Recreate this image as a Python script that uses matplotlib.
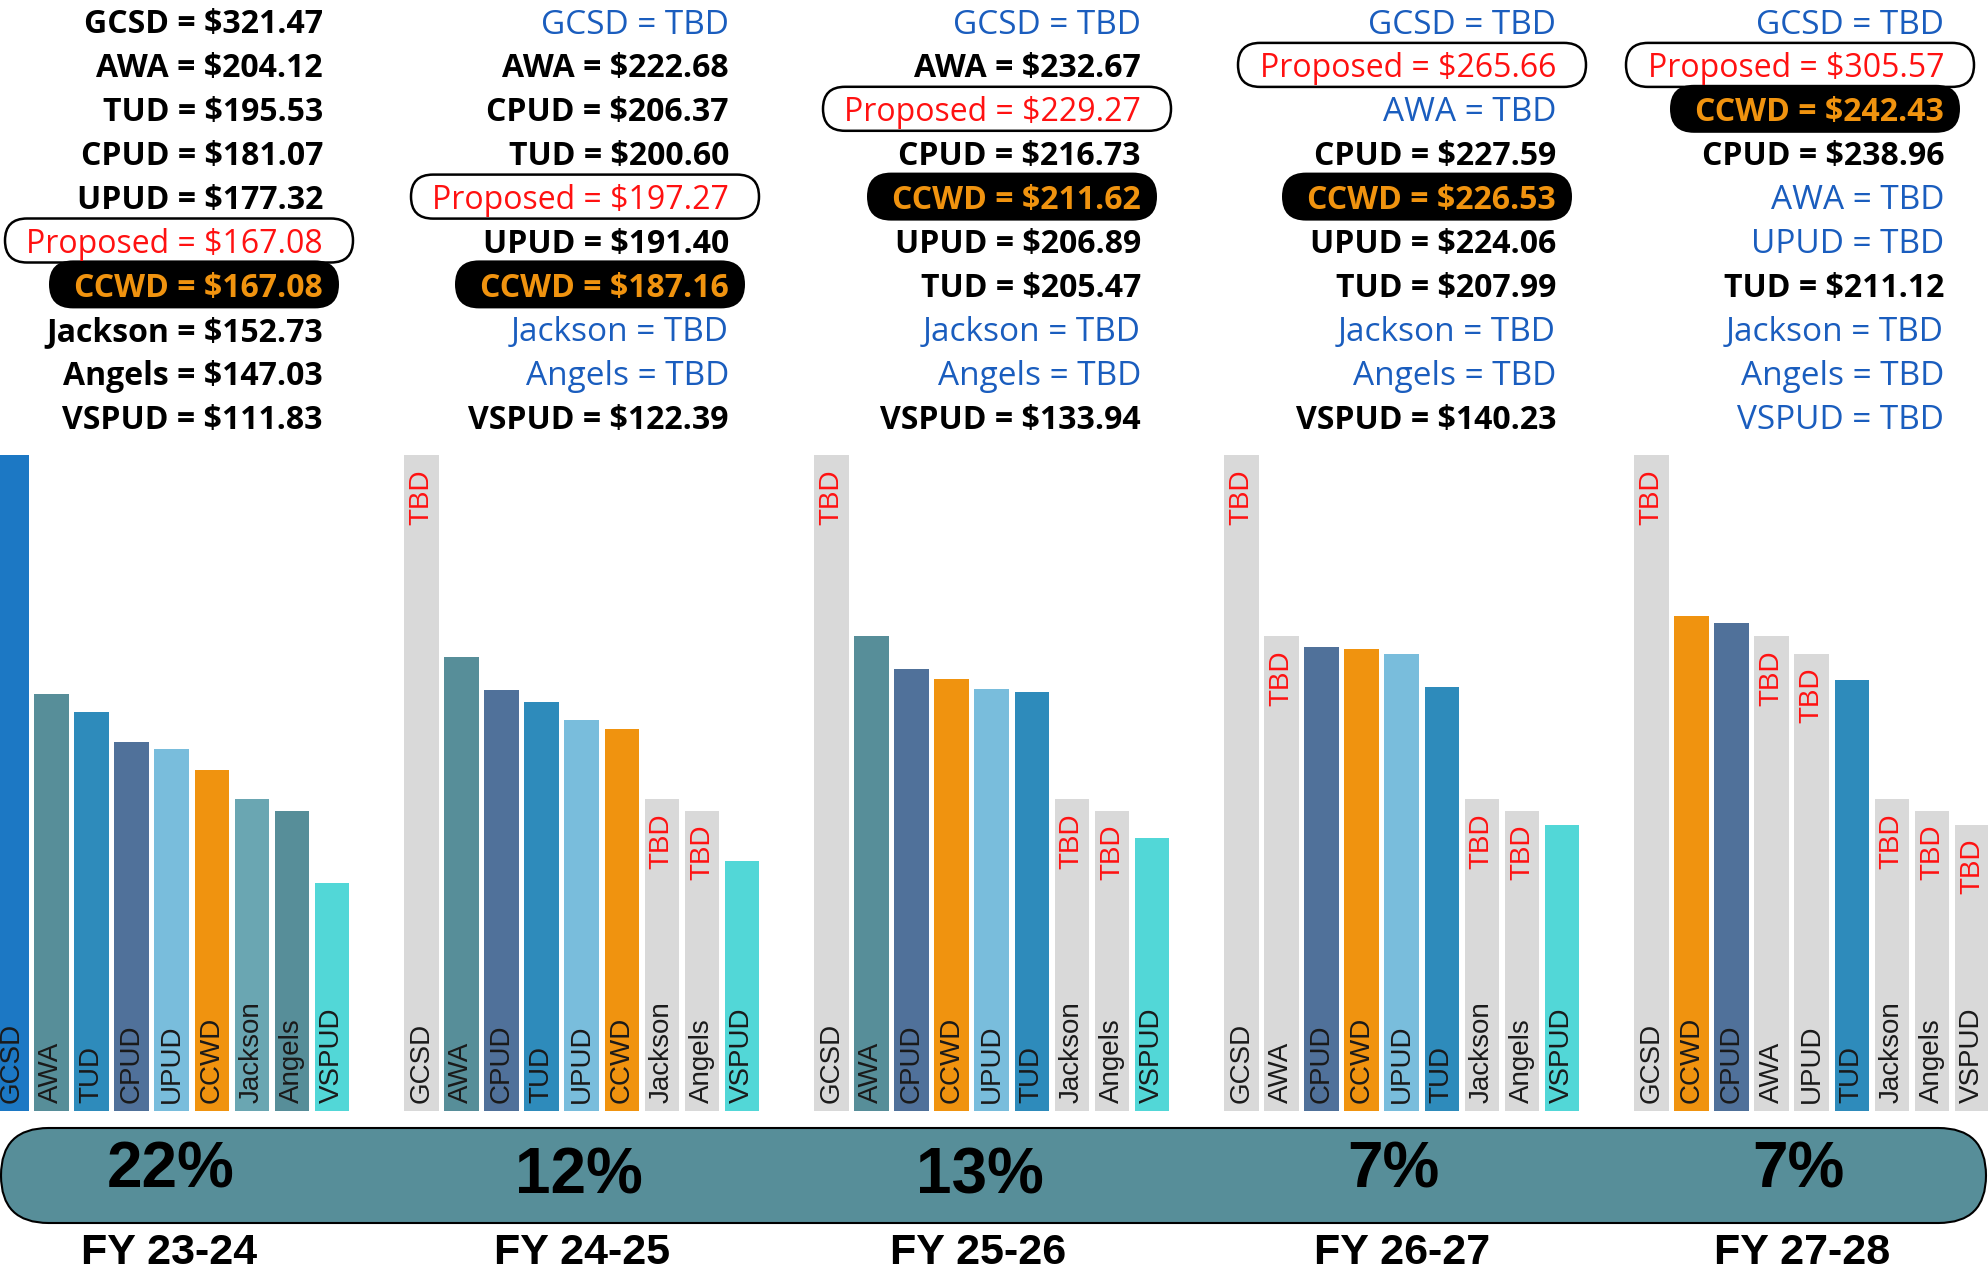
import matplotlib.pyplot as plt
from matplotlib.patches import FancyBboxPatch

years = ["FY 23-24", "FY 24-25", "FY 25-26", "FY 26-27", "FY 27-28"]
increase = ["22%", "12%", "13%", "7%", "7%"]
proposed = [167.08, 197.27, 229.27, 265.66, 305.57]
proposed_row = [5, 4, 2, 1, 1]   # where "Proposed" sits in the list

order = [
    ["GCSD", "AWA", "TUD", "CPUD", "UPUD", "CCWD", "Jackson", "Angels", "VSPUD"],
    ["GCSD", "AWA", "CPUD", "TUD", "UPUD", "CCWD", "Jackson", "Angels", "VSPUD"],
    ["GCSD", "AWA", "CPUD", "CCWD", "UPUD", "TUD", "Jackson", "Angels", "VSPUD"],
    ["GCSD", "AWA", "CPUD", "CCWD", "UPUD", "TUD", "Jackson", "Angels", "VSPUD"],
    ["GCSD", "CCWD", "CPUD", "AWA", "UPUD", "TUD", "Jackson", "Angels", "VSPUD"],
]
# None = TBD
rates = [
    [321.47, 204.12, 195.53, 181.07, 177.32, 167.08, 152.73, 147.03, 111.83],
    [None, 222.68, 206.37, 200.60, 191.40, 187.16, None, None, 122.39],
    [None, 232.67, 216.73, 211.62, 206.89, 205.47, None, None, 133.94],
    [None, None, 227.59, 226.53, 224.06, 207.99, None, None, 140.23],
    [None, 242.43, 238.96, None, None, 211.12, None, None, None],
]

colors = {"GCSD": "#1C78C4", "AWA": "#578E99", "TUD": "#2E8BBB", "CPUD": "#50719A",
          "UPUD": "#79BDDC", "CCWD": "#F0930F", "Jackson": "#6AA6B2",
          "Angels": "#578E99", "VSPUD": "#52D7D7"}
gray = "#D9D9D9"
tbd_blue = "#1A5DBE"
red = "#FF1111"
band = "#578E99"

W, H = 1988, 1272
px_per_dollar = 2.0406
base = 1111                     # pixel row of the bar baseline
panel_left = [-6 + 410 * i for i in range(5)]
pitch, bw = 40.1, 34.5
list_right = [323, 729, 1141, 1556, 1944]
row_y = [21 + 43.9 * k for k in range(10)]
pct_x = [171, 579, 980, 1393, 1798]
pct_y = [1170, 1177, 1177, 1170, 1170]
fy_x = [169, 582, 978, 1402, 1802]

narrow = ["Liberation Sans Narrow", "Liberation Sans", "DejaVu Sans"]
head = ["Open Sans", "DejaVu Sans"]

fig = plt.figure(figsize=(W / 100, H / 100), dpi=100)
ax = fig.add_axes([0, (H - base) / H, 1, base / H])
ax.set_xlim(0, W)
ax.set_ylim(0, base / px_per_dollar)
ax.axis("off")

tx = fig.add_axes([0, 0, 1, 1], zorder=3)
tx.set_xlim(0, W)
tx.set_ylim(H, 0)
tx.axis("off")
tx.patch.set_alpha(0)

# last known value stands in for TBD bars
last = {}
for i in range(5):
    for j, name in enumerate(order[i]):
        v = rates[i][j]
        if v is not None:
            last[name] = v
        h = v if v is not None else last[name]
        x = panel_left[i] + j * pitch + bw / 2
        ax.bar(x, h, width=bw, color=colors[name] if v is not None else gray, zorder=2)
        ax.annotate(name, (x, 0), xytext=(0, 8), textcoords="offset pixels",
                    rotation=90, ha="center", va="bottom", fontsize=20,
                    family=narrow, color="#1a1a1a", zorder=4)
        if v is None:
            ax.annotate("TBD", (x, h), xytext=(0, -14), textcoords="offset pixels",
                        rotation=90, ha="center", va="top", fontsize=20,
                        family=narrow, color=red, zorder=4)

    # header list
    items = []
    for j, name in enumerate(order[i]):
        items.append((name, rates[i][j]))
    items.insert(proposed_row[i], ("Proposed", proposed[i]))
    for k, (name, v) in enumerate(items):
        y = row_y[k]
        xr = list_right[i]
        if name == "Proposed":
            tx.add_patch(FancyBboxPatch((xr + 30 - 348, y - 22), 348, 44,
                                        boxstyle="round,pad=0,rounding_size=22",
                                        fc="white", ec="black", lw=1.8))
            tx.text(xr, y, f"Proposed = ${v:.2f}", ha="right", va="center_baseline",
                    fontsize=23, family=head, color=red)
        elif v is None:
            tx.text(xr, y, f"{name} = TBD", ha="right", va="center_baseline",
                    fontsize=24, family=head, color=tbd_blue)
        elif name == "CCWD":
            tx.add_patch(FancyBboxPatch((xr + 16 - 290, y - 24), 290, 48,
                                        boxstyle="round,pad=0,rounding_size=24",
                                        fc="black", ec="black", lw=0))
            tx.text(xr, y, f"{name} = ${v:.2f}", ha="right", va="center_baseline",
                    fontsize=23, family=head, weight="bold", color=colors["CCWD"])
        else:
            tx.text(xr, y, f"{name} = ${v:.2f}", ha="right", va="center_baseline",
                    fontsize=23, family=head, weight="bold", color="black")

# bottom band
tx.add_patch(FancyBboxPatch((1, 1128), W - 3, 95,
                            boxstyle="round,pad=0,rounding_size=47.5",
                            fc=band, ec="black", lw=1.5))
for i in range(5):
    tx.text(pct_x[i], pct_y[i], increase[i], ha="center", va="center",
            fontsize=46, weight="bold", family=narrow, color="black")
    tx.text(fy_x[i], 1253, years[i], ha="center", va="center",
            fontsize=31, weight="bold", family=narrow, color="black")

fig.savefig("out.png", dpi=100, facecolor="white")
